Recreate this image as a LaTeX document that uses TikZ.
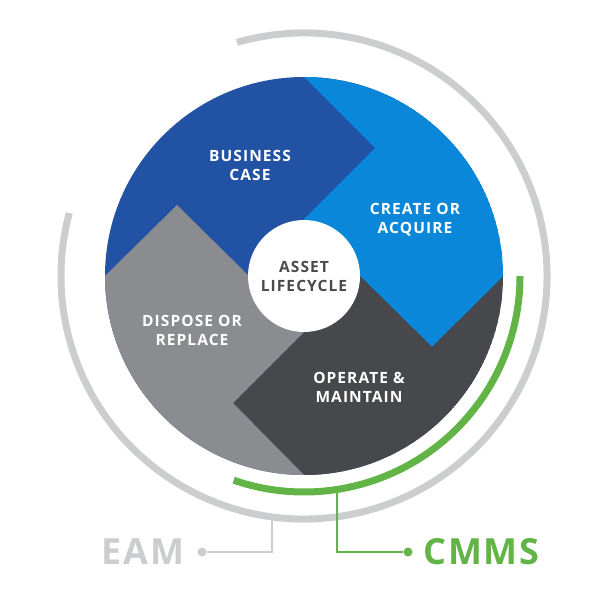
\documentclass[tikz,border=0pt]{standalone}
\usepackage{fontspec}
\setmainfont{Open Sans}
\usetikzlibrary{positioning,calc}
\definecolor{bizblue}{HTML}{2152A3}
\definecolor{acqblue}{HTML}{0A87D8}
\definecolor{dispgray}{HTML}{8B8C8F}
\definecolor{opgray}{HTML}{47484B}
\definecolor{ringgray}{HTML}{CCCDCF}
\definecolor{cmmsgreen}{HTML}{62B446}
\definecolor{coretext}{HTML}{4A4A4C}
\newcommand{\stagefont}{\fontsize{15.5}{19}\selectfont\bfseries\addfontfeature{LetterSpace=7}}
\begin{document}
\begin{tikzpicture}[
		x=1pt, y=-1pt,
		stage/.style = {text=white, align=center, font=\stagefont},
		ring/.style = {line width=7pt},
		dot/.style = {circle, inner sep=0pt, minimum size=9pt},
		tag/.style = {font=\fontsize{36}{36}\selectfont\bfseries\addfontfeature{LetterSpace=5}}
	]
	\useasboundingbox (0,0) rectangle (607,593);
	\coordinate (c) at (304,276);
	% Quarters.
	\begin{scope}
		\clip (c) circle (199);
		\fill[bizblue] (c) circle (199);
		\fill[acqblue] (232,5) -- (375,148) -- (304,219) -- (c) -- (361,277) -- (432,347) -- (540,240) -- (540,5) -- cycle;
		\fill[opgray] (c) -- (361,277) -- (432,347) -- (540,240) -- (540,560) -- (388,560) -- (233,403) -- (304,332) -- cycle;
		\fill[dispgray] (c) -- (304,332) -- (233,403) -- (388,560) -- (40,560) -- (40,340) -- (177,205) -- (248,275) -- cycle;
	\end{scope}
	\fill[white] (c) circle (56);
	% Labels.
	\node[stage, text=coretext] (core) at (c) {ASSET\\LIFECYCLE};
	\node[stage] (biz) at (250,165) {BUSINESS\\CASE};
	\node[stage] (acq) at (415,220) {CREATE OR\\ACQUIRE};
	\node[stage] (disp) at (192,330) {DISPOSE OR\\REPLACE};
	\node[stage] (op) at (359,387) {OPERATE \&\\MAINTAIN};
	% Rings.
	\draw[ring, ringgray] ($(c)+(-106:243)$) arc[start angle=-106, end angle=195, radius=243];
	\draw[ring, cmmsgreen] ($(c)+(0:216)$) arc[start angle=0, end angle=109, radius=216];
	% Tags.
	\coordinate (eamtop) at (272,517);
	\coordinate (cmmstop) at (337,490);
	\node[dot, fill=ringgray] (eamdot) at (202,552) {};
	\node[dot, fill=cmmsgreen] (cmmsdot) at (408,552) {};
	\node[tag, text=ringgray, anchor=east] (eam) at (188,552) {EAM};
	\node[tag, text=cmmsgreen, anchor=west] (cmms) at (420,552) {CMMS};
	\draw[ringgray, line width=2.5pt] (eamdot) -| (eamtop);
	\draw[cmmsgreen, line width=2.5pt] (cmmsdot) -| (cmmstop);
\end{tikzpicture}
\end{document}
